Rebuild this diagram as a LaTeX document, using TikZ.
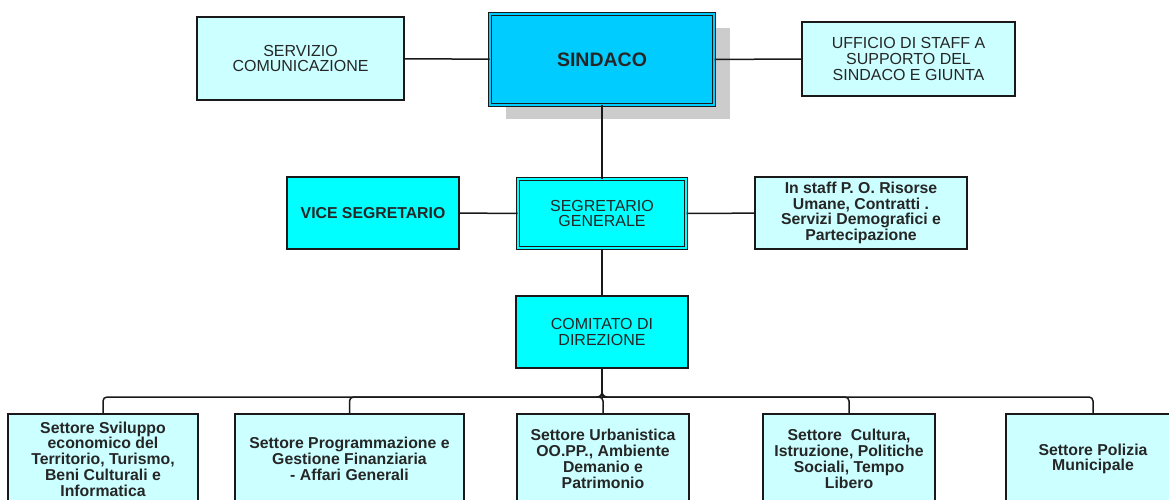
\documentclass[tikz,border=0pt]{standalone}
\usepackage{fontspec}
\setmainfont{Liberation Sans}
\usepackage{tikz}
\usetikzlibrary{shadows}

\definecolor{mayorblue}{HTML}{00CCFF}
\definecolor{officecyan}{HTML}{00FFFF}
\definecolor{stafflight}{HTML}{CCFFFF}
\definecolor{shadowgrey}{HTML}{CCCCCC}

\begin{document}
\begin{tikzpicture}[x=1pt,y=-1pt]
			\tikzstyle{box}=[draw=black!90,line width=1.5pt,align=center,inner sep=0pt,text=black!85,
			                 font=\fontsize{16}{15.8}\selectfont]
			\tikzstyle{staff box}=[box,fill=stafflight];
			\tikzstyle{office box}=[box,fill=officecyan];
			\tikzstyle{double box}=[box,line width=1pt,double distance=2pt];
			\tikzstyle{sector}=[staff box,minimum height=90pt,font=\fontsize{15.8}{15.8}\selectfont\bfseries];
			\tikzstyle{link}=[draw=black!90,line width=1.5pt]
			
			% Fix the page size
			\useasboundingbox (0,0) rectangle (1169,500);
			\clip (0,0) rectangle (1169,500);
			
			% Define the height of the bus line
			\def\busy{397}
			
			% Draw the top row
			\node[double box,double=mayorblue,fill=mayorblue,minimum width=224pt,minimum height=91pt,
			      font=\fontsize{19.5}{20}\selectfont\bfseries,
			      drop shadow={shadow xshift=16pt,shadow yshift=-14pt,fill=shadowgrey,opacity=1}]
			      (sindaco) at (602,59.5) {SINDACO};
			\node[staff box,minimum width=207pt,minimum height=83pt] (comunicazione) at (300.5,58.5)
			      {SERVIZIO\\COMUNICAZIONE};
			\node[staff box,minimum width=213pt,minimum height=74pt] (ufficio) at (908.5,59)
			      {UFFICIO DI STAFF A\\SUPPORTO DEL\\SINDACO E GIUNTA};
			
			% Draw the second row
			\node[double box,double=officecyan,fill=officecyan,minimum width=168pt,minimum height=69pt]
			      (segretario) at (602,213.5) {SEGRETARIO\\GENERALE};
			\node[office box,minimum width=172pt,minimum height=72pt,
			      font=\fontsize{15.8}{15.8}\selectfont\bfseries] (vice) at (373,213) {VICE SEGRETARIO};
			\node[staff box,minimum width=212pt,minimum height=72pt,
			      font=\fontsize{15.8}{15.8}\selectfont\bfseries] (risorse) at (861,213)
			      {In staff P. O. Risorse\\Umane, Contratti .\\Servizi Demografici e\\Partecipazione};
			
			% Draw the third row
			\node[office box,minimum width=172pt,minimum height=72pt] (comitato) at (602,332)
			      {COMITATO DI\\DIREZIONE};
			
			% Draw the sector nodes
			\foreach \name / \x / \w / \txt in {
			    1/103/190/{Settore Sviluppo\\economico del\\Territorio, Turismo,\\Beni Culturali e\\Informatica},
			    2/349.5/229/{Settore Programmazione e\\Gestione Finanziaria\\- Affari Generali},
			    3/603/172/{Settore Urbanistica\\OO.PP., Ambiente\\Demanio e\\Patrimonio},
			    4/849/172/{Settore\ \ Cultura,\\Istruzione, Politiche\\Sociali, Tempo\\Libero},
			    5/1093/174/{Settore Polizia\\Municipale}}
			\node[sector,minimum width=\w pt] (S-\name) at (\x,459) {\txt};
			
			% Connect the top row
			\path[link] (comunicazione) edge (sindaco);
			\path[link] (sindaco) edge (ufficio);
			\path[link] (sindaco) edge (segretario);
			
			% Connect the second row
			\path[link] (vice) edge (segretario);
			\path[link] (segretario) edge (risorse);
			\path[link] (segretario) edge (comitato);
			
			% Connect the committee with every sector
			\coordinate (bus) at (0,\busy);
			\foreach \dest in {1,...,5}
			\draw[link,rounded corners=4pt] (comitato.south) -- (comitato.south |- bus) -| (S-\dest.north);
		\end{tikzpicture}
\end{document}
